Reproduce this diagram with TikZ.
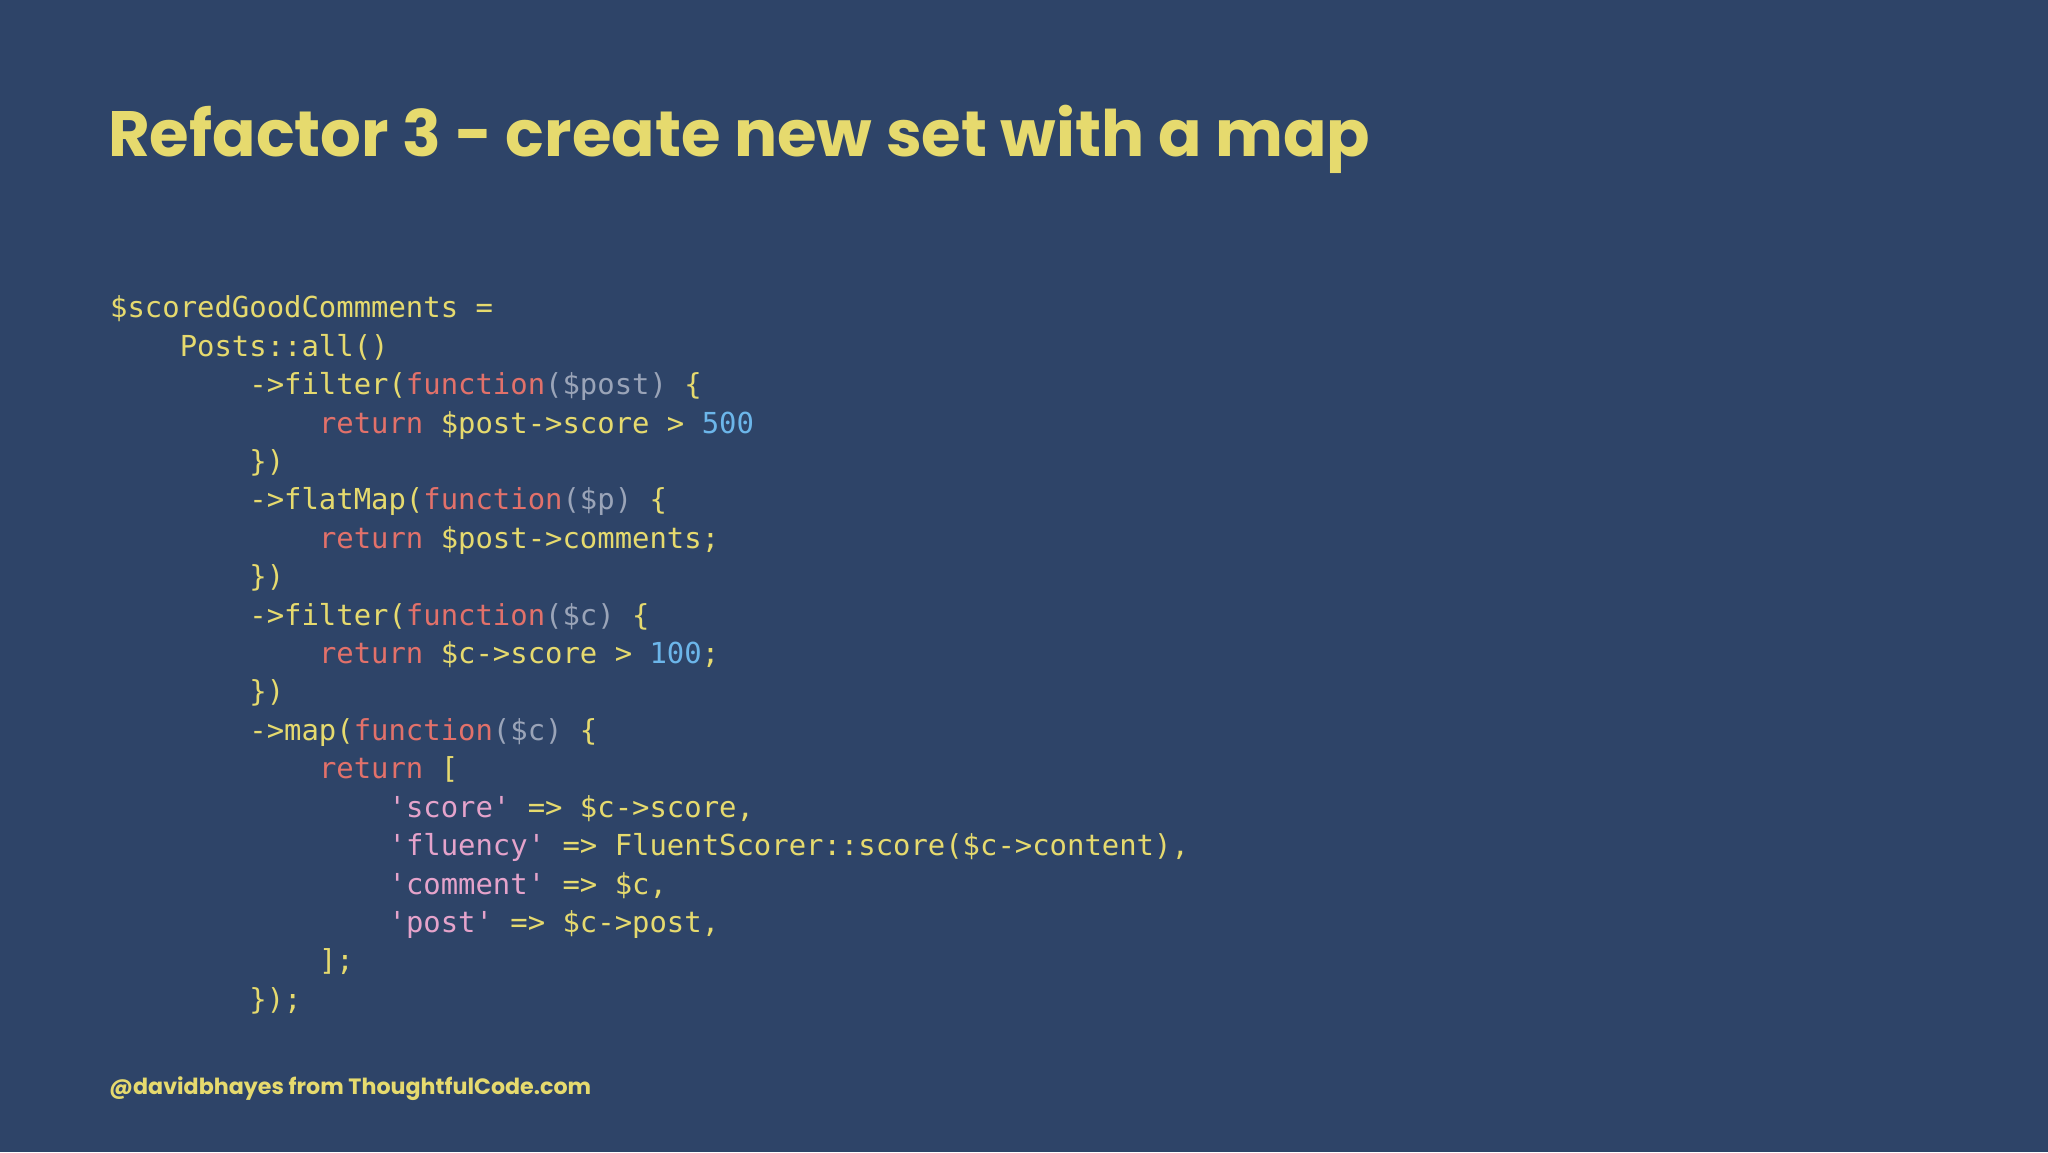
\documentclass[tikz,border=0pt]{standalone}
\usepackage{fontspec}
\setmonofont{DejaVu Sans Mono}
\newfontfamily\titlefont{Poppins Bold}
\definecolor{bg}{HTML}{2E4468}
\definecolor{cy}{HTML}{E6DA6E}
\definecolor{cr}{HTML}{E2716A}
\definecolor{cg}{HTML}{9AA4B8}
\definecolor{cb}{HTML}{6CB6EA}
\definecolor{cp}{HTML}{E5A3CB}
\newcommand\Yc[1]{\textcolor{cy}{#1}}
\newcommand\Rc[1]{\textcolor{cr}{#1}}
\newcommand\Gc[1]{\textcolor{cg}{#1}}
\newcommand\Bc[1]{\textcolor{cb}{#1}}
\newcommand\Pc[1]{\textcolor{cp}{#1}}
\newcommand\q{\textquotesingle}
\begin{document}
\begin{tikzpicture}[x=1pt,y=1pt,
  code/.style={anchor=base west,inner sep=0pt,font=\ttfamily\fontsize{28.9}{30}\selectfont,text=cy}]
\fill[bg] (0,0) rectangle (2048,1152);
\useasboundingbox (0,0) rectangle (2048,1152);
\node[anchor=base west,inner sep=0pt,text=cy] (title) at (108,995)
  {\resizebox{1262pt}{!}{\titlefont\fontsize{60}{70}\selectfont Refactor 3 - create new set with a map}};
\def\ch{17.4}
\def\lh{38.4}
\foreach \i/\ind/\txt in {
 0/0/{\Yc{\$scoredGoodCommments =}},
 1/4/{\Yc{Posts::all()}},
 2/8/{\Yc{->filter(}\Rc{function}\Gc{(\$post)}\Yc{\ \{}},
 3/12/{\Rc{return\ }\Yc{\$post->score > }\Bc{500}},
 4/8/{\Yc{\})}},
 5/8/{\Yc{->flatMap(}\Rc{function}\Gc{(\$p)}\Yc{\ \{}},
 6/12/{\Rc{return\ }\Yc{\$post->comments;}},
 7/8/{\Yc{\})}},
 8/8/{\Yc{->filter(}\Rc{function}\Gc{(\$c)}\Yc{\ \{}},
 9/12/{\Rc{return\ }\Yc{\$c->score > }\Bc{100}\Yc{;}},
 10/8/{\Yc{\})}},
 11/8/{\Yc{->map(}\Rc{function}\Gc{(\$c)}\Yc{\ \{}},
 12/12/{\Rc{return\ }\Yc{[}},
 13/16/{\Pc{\q score\q}\Yc{\ => \$c->score,}},
 14/16/{\Pc{\q fluency\q}\Yc{\ => FluentScorer::score(\$c->content),}},
 15/16/{\Pc{\q comment\q}\Yc{\ => \$c,}},
 16/16/{\Pc{\q post\q}\Yc{\ => \$c->post,}},
 17/12/{\Yc{];}},
 18/8/{\Yc{\});}}}
 \node[code] (line\i) at ({110+\ind*\ch},{1152-318-\i*\lh}) {\txt};
\node[anchor=base west,inner sep=0pt,text=cy] (footer) at (109,58)
  {\resizebox{482pt}{!}{\titlefont\fontsize{20}{24}\selectfont @davidbhayes from ThoughtfulCode.com}};
\end{tikzpicture}
\end{document}
